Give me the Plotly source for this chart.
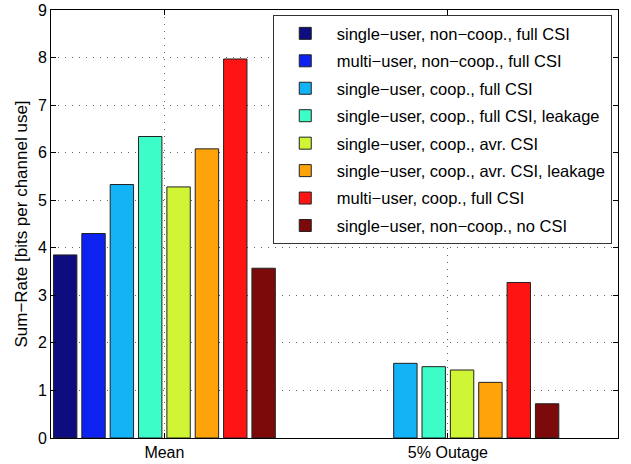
import plotly.graph_objects as go

categories = ["Mean", "5% Outage"]
series_names = [
    "single\u2212user, non\u2212coop., full CSI",
    "multi\u2212user, non\u2212coop., full CSI",
    "single\u2212user, coop., full CSI",
    "single\u2212user, coop., full CSI, leakage",
    "single\u2212user, coop., avr. CSI",
    "single\u2212user, coop., avr. CSI, leakage",
    "multi\u2212user, coop., full CSI",
    "single\u2212user, non\u2212coop., no CSI",
]
mean_values = [3.85, 4.30, 5.33, 6.34, 5.28, 6.08, 7.97, 3.57]
outage_values = [None, None, 1.57, 1.50, 1.43, 1.17, 3.27, 0.72]
colors = ["#0d0d80", "#0d22f0", "#13b4f5", "#3cfcc8",
          "#d0f535", "#ffa30a", "#ff1414", "#7d0a0a"]

fig = go.Figure()
for i, name in enumerate(series_names):
    fig.add_trace(go.Bar(
        x=categories,
        y=[mean_values[i], outage_values[i]],
        name=name,
        legendgroup=f"g{i}",
        marker=dict(color=colors[i], line=dict(color="#222222", width=1)),
    ))

font = "Liberation Sans, Arial, Helvetica, sans-serif"
fig.update_layout(
    width=631, height=464,
    margin=dict(l=51, r=13, t=10, b=26),
    paper_bgcolor="white", plot_bgcolor="white",
    barmode="group", bargap=0.2, bargroupgap=0.175,
    font=dict(family=font, size=16, color="black"),
    legend=dict(
        x=0.989, y=0.988, xanchor="right", yanchor="top",
        bgcolor="white", bordercolor="#333333", borderwidth=1,
        font=dict(size=16.5), tracegroupgap=3, traceorder="grouped",
        itemwidth=53,
    ),
    showlegend=True,
)
grid = dict(showgrid=True, gridcolor="#666666", griddash="1px,6px", gridwidth=1)
fig.update_xaxes(
    range=[-0.4, 1.6], showline=True, linecolor="black", linewidth=1, mirror="ticks",
    ticks="inside", ticklen=5, tickcolor="black", automargin=False,
    tickfont=dict(size=16), **grid,
)
fig.update_yaxes(
    range=[0, 9], dtick=1, showline=True, linecolor="black", linewidth=1, mirror="ticks",
    ticks="inside", ticklen=5, tickcolor="black", automargin=False,
    zeroline=False, tickfont=dict(size=16), **grid,
    title=dict(text="Sum\u2212Rate [bits per channel use]", font=dict(size=17), standoff=5),
)
fig.write_html("out.html", config={"displayModeBar": False},
               post_script="document.body.style.margin='0';")
